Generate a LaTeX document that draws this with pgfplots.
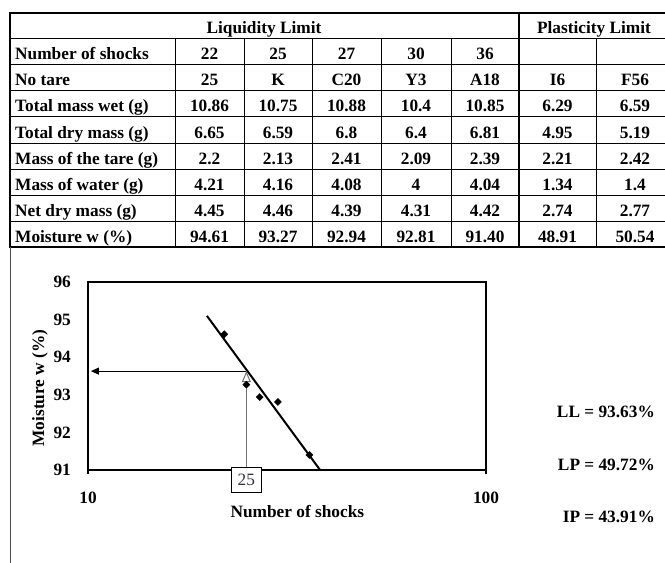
\documentclass[border=0pt]{standalone}
\usepackage{fontspec}
\setmainfont{Liberation Serif}
\usepackage{pgfplots}
\pgfplotsset{compat=1.18}
\usetikzlibrary{arrows.meta}

\newcommand{\fs}{\fontsize{17.3}{20.8}\selectfont\bfseries}
\definecolor{boxtext}{RGB}{50,50,66}

% one table row: baseline, row name, seven cell values
\newcommand{\tabrow}[9]{%
  \node[anchor=base west,inner sep=0pt] at (15pt,-#1pt) {\fs #2};
  \node[anchor=base,inner sep=0pt] at (209.5pt,-#1pt) {\fs #3};
  \node[anchor=base,inner sep=0pt] at (278pt,-#1pt) {\fs #4};
  \node[anchor=base,inner sep=0pt] at (346.5pt,-#1pt) {\fs #5};
  \node[anchor=base,inner sep=0pt] at (416pt,-#1pt) {\fs #6};
  \node[anchor=base,inner sep=0pt] at (485pt,-#1pt) {\fs #7};
  \node[anchor=base,inner sep=0pt] at (557.5pt,-#1pt) {\fs #8};
  \node[anchor=base,inner sep=0pt] at (635pt,-#1pt) {\fs #9};
}

\begin{document}
\begin{tikzpicture}
\useasboundingbox (0,0) rectangle (665pt,-563pt);

% ---- table rules ----
\draw[line width=2pt] (9pt,-13pt) -- (665pt,-13pt);
\foreach \y in {38,64,90,116,143,169,195,221}
  \draw[line width=1pt] (10pt,-\y pt) -- (665pt,-\y pt);
\draw[line width=2pt] (9pt,-247pt) -- (665pt,-247pt);
\draw[line width=2pt] (10pt,-13pt) -- (10pt,-247pt);
\draw[line width=1pt, black!70] (10pt,-247pt) -- (10pt,-563pt);
\foreach \x in {175,244,312,381,451,596}
  \draw[line width=1pt] (\x pt,-38pt) -- (\x pt,-247pt);
\draw[line width=2pt] (519pt,-13pt) -- (519pt,-247pt);

% ---- table text ----
\node[anchor=base,inner sep=0pt] at (264pt,-33pt) {\fs Liquidity Limit};
\node[anchor=base,inner sep=0pt] at (594pt,-33pt) {\fs Plasticity Limit};
\tabrow{59}{Number of shocks}{22}{25}{27}{30}{36}{}{}
\tabrow{85}{No tare}{25}{K}{C20}{Y3}{A18}{I6}{F56}
\tabrow{111}{Total mass wet (g)}{10.86}{10.75}{10.88}{10.4}{10.85}{6.29}{6.59}
\tabrow{138}{Total dry mass (g)}{6.65}{6.59}{6.8}{6.4}{6.81}{4.95}{5.19}
\tabrow{164}{Mass of the tare (g)}{2.2}{2.13}{2.41}{2.09}{2.39}{2.21}{2.42}
\tabrow{190}{Mass of water (g)}{4.21}{4.16}{4.08}{4}{4.04}{1.34}{1.4}
\tabrow{216}{Net dry mass (g)}{4.45}{4.46}{4.39}{4.31}{4.42}{2.74}{2.77}
\tabrow{242}{Moisture w (\%)}{94.61}{93.27}{92.94}{92.81}{91.40}{48.91}{50.54}

% ---- flow curve ----
\begin{axis}[
  at={(88pt,-470pt)}, anchor=south west,
  scale only axis, width=398pt, height=188pt,
  xmode=log, xmin=10, xmax=100, ymin=91, ymax=96,
  xtick={10,100}, xticklabels={10,100}, xminorticks=false,
  ytick={91,92,93,94,95,96}, yticklabels={91,92,93,94,95,96},
  xtick pos=bottom, ytick pos=left,
  tick align=outside, major tick length=4pt,
  xtick style={black, line width=1.2pt},
  ytick style={draw=none},
  axis line style={line width=1.6pt},
  xticklabel style={font=\fs, inner sep=0pt, anchor=north, yshift=-18pt},
  yticklabel style={font=\fs, inner sep=0pt, anchor=east, xshift=-13pt},
  xlabel={Number of shocks},
  xlabel style={font=\fs, at={(axis description cs:0.526,0)}, anchor=base, yshift=-47pt, inner sep=0pt},
  ylabel={Moisture w (\%)},
  ylabel style={font=\fs, at={(axis description cs:-0.1206,0.436)}, anchor=center, inner sep=0pt},
  clip=false,
]
% trend line w = a + b log N
\addplot[black, line width=2pt] coordinates {(19.9,95.1) (38.3,91)};
% measured points
\addplot[only marks, mark=square*, mark size=2.5pt, mark options={rotate=45}, black] coordinates {
  (22,94.61) (25,93.27) (27,92.94) (30,92.81) (36,91.40)};
% reading of the liquidity limit at 25 shocks
\addplot[black!55, line width=1pt, -{Triangle[open, length=11pt, width=9pt]}] coordinates {(25,91) (25,93.63)};
\addplot[black, line width=1pt, -{Triangle[length=8pt, width=7pt]}] coordinates {(25,93.63) (10.17,93.63)};
\node[draw=black, line width=0.9pt, fill=white, minimum width=30pt, minimum height=25pt, inner sep=0pt,
      font=\fontsize{17.3}{20.8}\selectfont, text=boxtext] at (axis cs:25,91) [yshift=-9.5pt] {25};
\end{axis}

% ---- results ----
\node[anchor=base east,inner sep=0pt] at (655pt,-417pt) {\fs LL = 93.63\%};
\node[anchor=base east,inner sep=0pt] at (655pt,-470pt) {\fs LP = 49.72\%};
\node[anchor=base east,inner sep=0pt] at (655pt,-522pt) {\fs IP = 43.91\%};
\end{tikzpicture}
\end{document}
